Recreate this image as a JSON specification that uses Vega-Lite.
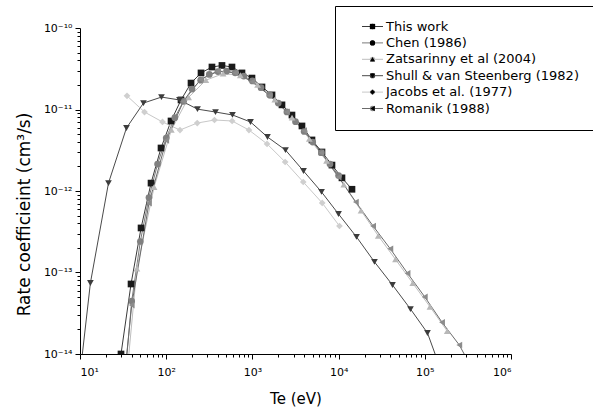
{
  "$schema": "https://vega.github.io/schema/vega-lite/v6.json",
  "width": 431,
  "height": 326,
  "autosize": {"type": "none"},
  "padding": {"left": 80, "top": 28, "right": 82, "bottom": 56},
  "background": "white",
  "config": {
    "view": {"stroke": null},
    "font": "DejaVu Sans",
    "axis": {
      "grid": false,
      "domainColor": "black",
      "domainWidth": 1,
      "tickColor": "black",
      "tickWidth": 1,
      "labelColor": "black",
      "labelFont": "DejaVu Sans",
      "labelFontSize": 11,
      "labelOverlap": false,
      "titleColor": "black",
      "titleFont": "DejaVu Sans",
      "titleFontWeight": "normal"
    }
  },
  "data": {
    "values": [
      {"series": "This work", "T": 29.9, "k": 1.0e-14},
      {"series": "This work", "T": 39.1, "k": 7.23e-14},
      {"series": "This work", "T": 51.1, "k": 3.52e-13},
      {"series": "This work", "T": 66.7, "k": 1.25e-12},
      {"series": "This work", "T": 87.1, "k": 3.37e-12},
      {"series": "This work", "T": 113.8, "k": 7.23e-12},
      {"series": "This work", "T": 148.6, "k": 1.31e-11},
      {"series": "This work", "T": 194.1, "k": 2.11e-11},
      {"series": "This work", "T": 253.5, "k": 2.81e-11},
      {"series": "This work", "T": 339.6, "k": 3.32e-11},
      {"series": "This work", "T": 443.6, "k": 3.47e-11},
      {"series": "This work", "T": 579.4, "k": 3.32e-11},
      {"series": "This work", "T": 756.8, "k": 2.81e-11},
      {"series": "This work", "T": 988.5, "k": 2.43e-11},
      {"series": "This work", "T": 1291, "k": 1.89e-11},
      {"series": "This work", "T": 1687, "k": 1.51e-11},
      {"series": "This work", "T": 2203, "k": 1.14e-11},
      {"series": "This work", "T": 2877, "k": 8.55e-12},
      {"series": "This work", "T": 3758, "k": 6.28e-12},
      {"series": "This work", "T": 4909, "k": 4.23e-12},
      {"series": "This work", "T": 6412, "k": 3.01e-12},
      {"series": "This work", "T": 8375, "k": 2.08e-12},
      {"series": "This work", "T": 10940, "k": 1.45e-12},
      {"series": "This work", "T": 14290, "k": 1.05e-12},

      {"series": "Chen (1986)", "T": 33.1, "k": 5.01e-15},
      {"series": "Chen (1986)", "T": 39.8, "k": 4.47e-14},
      {"series": "Chen (1986)", "T": 50.1, "k": 2.40e-13},
      {"series": "Chen (1986)", "T": 63.1, "k": 8.32e-13},
      {"series": "Chen (1986)", "T": 79.4, "k": 2.14e-12},
      {"series": "Chen (1986)", "T": 100, "k": 4.47e-12},
      {"series": "Chen (1986)", "T": 125.9, "k": 7.94e-12},
      {"series": "Chen (1986)", "T": 158.5, "k": 1.26e-11},
      {"series": "Chen (1986)", "T": 199.5, "k": 1.78e-11},
      {"series": "Chen (1986)", "T": 251.2, "k": 2.29e-11},
      {"series": "Chen (1986)", "T": 316.2, "k": 2.69e-11},
      {"series": "Chen (1986)", "T": 398.1, "k": 2.92e-11},
      {"series": "Chen (1986)", "T": 501.2, "k": 2.95e-11},
      {"series": "Chen (1986)", "T": 631, "k": 2.82e-11},
      {"series": "Chen (1986)", "T": 794.3, "k": 2.57e-11},
      {"series": "Chen (1986)", "T": 1000, "k": 2.24e-11},
      {"series": "Chen (1986)", "T": 1259, "k": 1.86e-11},
      {"series": "Chen (1986)", "T": 1585, "k": 1.51e-11},
      {"series": "Chen (1986)", "T": 1995, "k": 1.20e-11},
      {"series": "Chen (1986)", "T": 2512, "k": 9.33e-12},
      {"series": "Chen (1986)", "T": 3162, "k": 7.08e-12},
      {"series": "Chen (1986)", "T": 3981, "k": 5.37e-12},
      {"series": "Chen (1986)", "T": 5012, "k": 3.98e-12},
      {"series": "Chen (1986)", "T": 6310, "k": 2.95e-12},
      {"series": "Chen (1986)", "T": 7943, "k": 2.14e-12},
      {"series": "Chen (1986)", "T": 10000, "k": 1.55e-12},

      {"series": "Zatsarinny et al (2004)", "T": 34.7, "k": 5.01e-15},
      {"series": "Zatsarinny et al (2004)", "T": 45.7, "k": 1.12e-13},
      {"series": "Zatsarinny et al (2004)", "T": 72.4, "k": 1.12e-12},
      {"series": "Zatsarinny et al (2004)", "T": 114.8, "k": 5.62e-12},
      {"series": "Zatsarinny et al (2004)", "T": 182, "k": 1.41e-11},
      {"series": "Zatsarinny et al (2004)", "T": 288.4, "k": 2.29e-11},
      {"series": "Zatsarinny et al (2004)", "T": 457.1, "k": 2.75e-11},
      {"series": "Zatsarinny et al (2004)", "T": 724.4, "k": 2.63e-11},
      {"series": "Zatsarinny et al (2004)", "T": 1148, "k": 2.00e-11},
      {"series": "Zatsarinny et al (2004)", "T": 1820, "k": 1.32e-11},
      {"series": "Zatsarinny et al (2004)", "T": 2884, "k": 7.94e-12},
      {"series": "Zatsarinny et al (2004)", "T": 4571, "k": 4.37e-12},
      {"series": "Zatsarinny et al (2004)", "T": 7244, "k": 2.34e-12},
      {"series": "Zatsarinny et al (2004)", "T": 11480, "k": 1.20e-12},
      {"series": "Zatsarinny et al (2004)", "T": 18200, "k": 5.75e-13},
      {"series": "Zatsarinny et al (2004)", "T": 28840, "k": 2.82e-13},
      {"series": "Zatsarinny et al (2004)", "T": 45710, "k": 1.45e-13},
      {"series": "Zatsarinny et al (2004)", "T": 72440, "k": 7.41e-14},
      {"series": "Zatsarinny et al (2004)", "T": 114800, "k": 3.80e-14},
      {"series": "Zatsarinny et al (2004)", "T": 182000, "k": 1.91e-14},

      {"series": "Shull & van Steenberg (1982)", "T": 8.24, "k": 9.12e-16},
      {"series": "Shull & van Steenberg (1982)", "T": 13.2, "k": 7.43e-14},
      {"series": "Shull & van Steenberg (1982)", "T": 21.4, "k": 1.25e-12},
      {"series": "Shull & van Steenberg (1982)", "T": 34.6, "k": 5.93e-12},
      {"series": "Shull & van Steenberg (1982)", "T": 54.5, "k": 1.20e-11},
      {"series": "Shull & van Steenberg (1982)", "T": 88.1, "k": 1.42e-11},
      {"series": "Shull & van Steenberg (1982)", "T": 142.6, "k": 1.31e-11},
      {"series": "Shull & van Steenberg (1982)", "T": 230.7, "k": 1.01e-11},
      {"series": "Shull & van Steenberg (1982)", "T": 373.3, "k": 9.31e-12},
      {"series": "Shull & van Steenberg (1982)", "T": 587.5, "k": 8.57e-12},
      {"series": "Shull & van Steenberg (1982)", "T": 950.6, "k": 7.03e-12},
      {"series": "Shull & van Steenberg (1982)", "T": 1496, "k": 4.60e-12},
      {"series": "Shull & van Steenberg (1982)", "T": 2421, "k": 3.18e-12},
      {"series": "Shull & van Steenberg (1982)", "T": 3917, "k": 1.76e-12},
      {"series": "Shull & van Steenberg (1982)", "T": 6339, "k": 9.73e-13},
      {"series": "Shull & van Steenberg (1982)", "T": 9977, "k": 5.22e-13},
      {"series": "Shull & van Steenberg (1982)", "T": 16140, "k": 2.73e-13},
      {"series": "Shull & van Steenberg (1982)", "T": 26060, "k": 1.35e-13},
      {"series": "Shull & van Steenberg (1982)", "T": 42170, "k": 7.03e-14},
      {"series": "Shull & van Steenberg (1982)", "T": 68230, "k": 3.56e-14},
      {"series": "Shull & van Steenberg (1982)", "T": 107400, "k": 1.81e-14},
      {"series": "Shull & van Steenberg (1982)", "T": 173800, "k": 4.47e-15},

      {"series": "Jacobs et al. (1977)", "T": 35.1, "k": 1.47e-11},
      {"series": "Jacobs et al. (1977)", "T": 56.0, "k": 9.31e-12},
      {"series": "Jacobs et al. (1977)", "T": 90.6, "k": 7.03e-12},
      {"series": "Jacobs et al. (1977)", "T": 144.5, "k": 5.60e-12},
      {"series": "Jacobs et al. (1977)", "T": 229.1, "k": 6.82e-12},
      {"series": "Jacobs et al. (1977)", "T": 363.1, "k": 7.43e-12},
      {"series": "Jacobs et al. (1977)", "T": 582.1, "k": 7.23e-12},
      {"series": "Jacobs et al. (1977)", "T": 912, "k": 5.60e-12},
      {"series": "Jacobs et al. (1977)", "T": 1479, "k": 3.78e-12},
      {"series": "Jacobs et al. (1977)", "T": 2399, "k": 2.27e-12},
      {"series": "Jacobs et al. (1977)", "T": 3890, "k": 1.29e-12},
      {"series": "Jacobs et al. (1977)", "T": 6457, "k": 7.13e-13},
      {"series": "Jacobs et al. (1977)", "T": 10230, "k": 3.72e-13},

      {"series": "Romanik (1988)", "T": 25.1, "k": 3.16e-16},
      {"series": "Romanik (1988)", "T": 39.8, "k": 3.98e-14},
      {"series": "Romanik (1988)", "T": 63.1, "k": 7.08e-13},
      {"series": "Romanik (1988)", "T": 100, "k": 4.17e-12},
      {"series": "Romanik (1988)", "T": 158.5, "k": 1.26e-11},
      {"series": "Romanik (1988)", "T": 251.2, "k": 2.34e-11},
      {"series": "Romanik (1988)", "T": 398.1, "k": 2.95e-11},
      {"series": "Romanik (1988)", "T": 631, "k": 2.82e-11},
      {"series": "Romanik (1988)", "T": 1000, "k": 2.19e-11},
      {"series": "Romanik (1988)", "T": 1585, "k": 1.48e-11},
      {"series": "Romanik (1988)", "T": 2512, "k": 9.33e-12},
      {"series": "Romanik (1988)", "T": 3981, "k": 5.50e-12},
      {"series": "Romanik (1988)", "T": 6310, "k": 2.95e-12},
      {"series": "Romanik (1988)", "T": 10000, "k": 1.48e-12},
      {"series": "Romanik (1988)", "T": 15850, "k": 7.33e-13},
      {"series": "Romanik (1988)", "T": 25120, "k": 3.72e-13},
      {"series": "Romanik (1988)", "T": 39810, "k": 1.95e-13},
      {"series": "Romanik (1988)", "T": 63100, "k": 9.77e-14},
      {"series": "Romanik (1988)", "T": 100000, "k": 5.01e-14},
      {"series": "Romanik (1988)", "T": 158500, "k": 2.45e-14},
      {"series": "Romanik (1988)", "T": 251200, "k": 1.29e-14},
      {"series": "Romanik (1988)", "T": 398100, "k": 5.25e-15}
    ]
  },
  "layer": [
    {
      "mark": {"type": "line", "strokeWidth": 1, "clip": true},
      "encoding": {
        "x": {
          "field": "T",
          "type": "quantitative",
          "scale": {"type": "log", "domain": [10, 1000000], "nice": false},
          "axis": {
            "values": [10,20,30,40,50,60,70,80,90,100,200,300,400,500,600,700,800,900,1000,2000,3000,4000,5000,6000,7000,8000,9000,10000,20000,30000,40000,50000,60000,70000,80000,90000,100000,200000,300000,400000,500000,600000,700000,800000,900000,1000000],
            "tickSize": {"condition": {"test": "abs(log(datum.value)/LN10 - round(log(datum.value)/LN10)) < 0.001", "value": 5}, "value": 3},
            "labelExpr": "abs(log(datum.value)/LN10 - round(log(datum.value)/LN10)) < 0.001 ? '10' + ['⁰','¹','²','³','⁴','⁵','⁶'][round(log(datum.value)/LN10)] : ''",
            "labelPadding": 7,
            "title": "Te (eV)",
            "titleFontSize": 15,
            "titlePadding": 14
          }
        },
        "y": {
          "field": "k",
          "type": "quantitative",
          "scale": {"type": "log", "domain": [1e-14, 1e-10], "nice": false},
          "axis": {
            "values": [1e-14,2e-14,3e-14,4e-14,5e-14,6e-14,7e-14,8e-14,9e-14,1e-13,2e-13,3e-13,4e-13,5e-13,6e-13,7e-13,8e-13,9e-13,1e-12,2e-12,3e-12,4e-12,5e-12,6e-12,7e-12,8e-12,9e-12,1e-11,2e-11,3e-11,4e-11,5e-11,6e-11,7e-11,8e-11,9e-11,1e-10],
            "tickSize": {"condition": {"test": "abs(log(datum.value)/LN10 - round(log(datum.value)/LN10)) < 0.001", "value": 5}, "value": 3},
            "labelExpr": "abs(log(datum.value)/LN10 - round(log(datum.value)/LN10)) < 0.001 ? '10⁻¹' + ['⁰','¹','²','³','⁴'][-round(log(datum.value)/LN10) - 10] : ''",
            "labelPadding": 3,
            "title": "Rate coefficieint (cm³/s)",
            "titleFontSize": 17,
            "titleAngle": -90,
            "titleX": -56,
            "titleY": 186,
            "titleAlign": "center",
            "titleBaseline": "middle"
          }
        },
        "stroke": {
          "field": "series",
          "type": "nominal",
          "scale": {
            "domain": ["This work", "Chen (1986)", "Zatsarinny et al (2004)", "Shull & van Steenberg (1982)", "Jacobs et al. (1977)", "Romanik (1988)"],
            "range": ["#3a3a3a", "#7a7a7a", "#bdbdbd", "#4a4a4a", "#c8c8c8", "#6a6a6a"]
          },
          "legend": {
            "orient": "none",
            "legendX": 255,
            "legendY": -22,
            "title": null,
            "strokeColor": "black",
            "padding": 14,
            "symbolType": "M-3,0H3",
            "symbolSize": 49,
            "symbolStrokeWidth": 1,
            "symbolFillColor": "transparent",
            "symbolOffset": 17,
            "labelOffset": 7,
            "labelFont": "DejaVu Sans",
            "labelFontSize": 13,
            "labelColor": "black",
            "labelLimit": 300,
            "rowPadding": 2.4
          }
        }
      }
    },
    {
      "mark": {"type": "point", "filled": true, "size": 45, "opacity": 1, "strokeWidth": 0, "clip": true},
      "encoding": {
        "x": {"field": "T", "type": "quantitative"},
        "y": {"field": "k", "type": "quantitative"},
        "shape": {
          "field": "series",
          "type": "nominal",
          "sort": ["This work", "Chen (1986)", "Zatsarinny et al (2004)", "Shull & van Steenberg (1982)", "Jacobs et al. (1977)", "Romanik (1988)"],
          "scale": {"range": ["square", "circle", "triangle-up", "triangle-down", "diamond", "triangle-left"]},
          "legend": {
            "orient": "none",
            "legendX": 255,
            "legendY": -22,
            "title": null,
            "padding": 14,
            "zindex": 1,
            "symbolSize": 28,
            "symbolStrokeWidth": 0,
            "symbolOpacity": 1,
            "symbolOffset": 17,
            "labelOffset": 7,
            "labelFont": "DejaVu Sans",
            "labelFontSize": 13,
            "labelOpacity": 0,
            "labelLimit": 300,
            "rowPadding": 2.4
          }
        },
        "color": {
          "field": "series",
          "type": "nominal",
          "sort": ["This work", "Chen (1986)", "Zatsarinny et al (2004)", "Shull & van Steenberg (1982)", "Jacobs et al. (1977)", "Romanik (1988)"],
          "scale": {"range": ["#1a1a1a", "#808080", "#b8b8b8", "#3c3c3c", "#cfcfcf", "#8c8c8c"]},
          "legend": {
            "orient": "none",
            "legendX": 255,
            "legendY": -22,
            "title": null,
            "padding": 14,
            "zindex": 1,
            "symbolSize": 28,
            "symbolStrokeWidth": 0,
            "symbolOpacity": 1,
            "symbolOffset": 17,
            "labelOffset": 7,
            "labelFont": "DejaVu Sans",
            "labelFontSize": 13,
            "labelOpacity": 0,
            "labelLimit": 300,
            "rowPadding": 2.4
          }
        }
      }
    }
  ]
}
